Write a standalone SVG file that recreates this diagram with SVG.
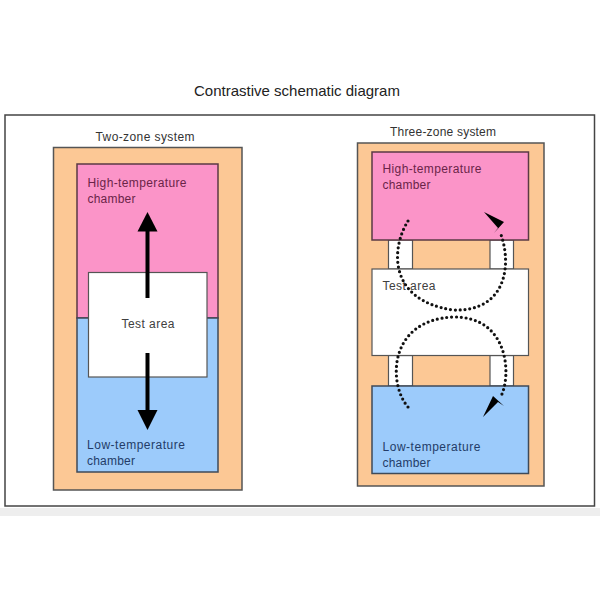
<svg xmlns="http://www.w3.org/2000/svg" width="600" height="600" viewBox="0 0 600 600">
<style>
.title{font-family:"Liberation Sans",Arial,sans-serif;font-size:15px;fill:#222}
.lbl{font-family:"Liberation Sans",Arial,sans-serif;font-size:12px}
.sys{fill:#333}
.hot{fill:#6a2448}
.cold{fill:#233c68}
.test{fill:#404040}
.frame{fill:#fff;stroke:#444;stroke-width:1.5}
.outer{fill:#fcc895;stroke:#555;stroke-width:1.5}
.pink{fill:#fb94c8;stroke:#5a3a44;stroke-width:1.5}
.blue{fill:#9ccbfb;stroke:#3f4a58;stroke-width:1.5}
.white{fill:#fff;stroke:#555;stroke-width:1.2}
.dots{fill:none;stroke:#111;stroke-width:3.2;stroke-linecap:round;stroke-dasharray:0 4.8}
.head{fill:#000}
</style>
<rect x="0" y="508" width="600" height="8" fill="#eeeeee"/>
<rect class="frame" x="5" y="115" width="589.5" height="391"/>
<text class="title" x="297" y="96" text-anchor="middle">Contrastive schematic diagram</text>

<g id="two-zone">
  <text class="lbl sys" x="145" y="140.5" text-anchor="middle" textLength="99" lengthAdjust="spacing">Two-zone system</text>
  <rect class="outer" x="53.5" y="147.5" width="188.5" height="342.5"/>
  <g id="left-high">
    <rect class="pink" x="77" y="164" width="141" height="154"/>
    <text class="lbl hot" x="87.5" y="187" textLength="99" lengthAdjust="spacing">High-temperature</text>
    <text class="lbl hot" x="87.5" y="202.5" textLength="48" lengthAdjust="spacing">chamber</text>
  </g>
  <g id="left-low">
    <rect class="blue" x="77" y="318" width="141" height="154"/>
    <text class="lbl cold" x="87" y="449" textLength="98" lengthAdjust="spacing">Low-temperature</text>
    <text class="lbl cold" x="87" y="465" textLength="48" lengthAdjust="spacing">chamber</text>
  </g>
  <g id="left-test">
    <rect class="white" x="88.5" y="272.5" width="118.5" height="104.5"/>
    <text class="lbl test" x="148" y="328" text-anchor="middle" textLength="53" lengthAdjust="spacing">Test area</text>
  </g>
</g>

<g id="three-zone">
  <text class="lbl sys" x="443" y="136" text-anchor="middle" textLength="106" lengthAdjust="spacing">Three-zone system</text>
  <rect class="outer" x="357.5" y="143" width="186.5" height="343"/>
  <g id="ducts">
    <rect class="white" x="388.5" y="240" width="24" height="29"/>
    <rect class="white" x="490" y="240" width="23.5" height="29"/>
    <rect class="white" x="388.5" y="355.5" width="24" height="30.5"/>
    <rect class="white" x="490" y="355.5" width="23.5" height="30.5"/>
  </g>
  <g id="right-high">
    <rect class="pink" x="372" y="152" width="156.5" height="88"/>
    <text class="lbl hot" x="382.5" y="173" textLength="99" lengthAdjust="spacing">High-temperature</text>
    <text class="lbl hot" x="382.5" y="188.5" textLength="48" lengthAdjust="spacing">chamber</text>
  </g>
  <g id="right-test">
    <rect class="white" x="372" y="269" width="156.5" height="86.5"/>
    <text class="lbl test" x="382.5" y="290" textLength="53" lengthAdjust="spacing">Test area</text>
  </g>
  <g id="right-low">
    <rect class="blue" x="372" y="386" width="156.5" height="87.5"/>
    <text class="lbl cold" x="382.5" y="451" textLength="98" lengthAdjust="spacing">Low-temperature</text>
    <text class="lbl cold" x="382.5" y="467" textLength="48" lengthAdjust="spacing">chamber</text>
  </g>
</g>

<g id="connectors">
  <line x1="147.5" y1="298" x2="147.5" y2="229" stroke="#000" stroke-width="4"/>
  <polygon class="head" points="147.5,212 157.5,231.5 137.5,231.5"/>
  <line x1="147.5" y1="353" x2="147.5" y2="412" stroke="#000" stroke-width="4"/>
  <polygon class="head" points="137.5,410 157.5,410 147.5,430"/>
  <path class="dots" d="M408,221 C392,246 386,300 453,310 C508,312 512,262 500,232"/>
  <polygon class="head" points="484,212 504,222 494,233 498,228"/>
  <path class="dots" d="M408,407 C388,384 388,320 453,317 C510,316 512,378 500,398"/>
  <polygon class="head" points="483,417 493,396 504,406 498,402"/>
</g>
</svg>
